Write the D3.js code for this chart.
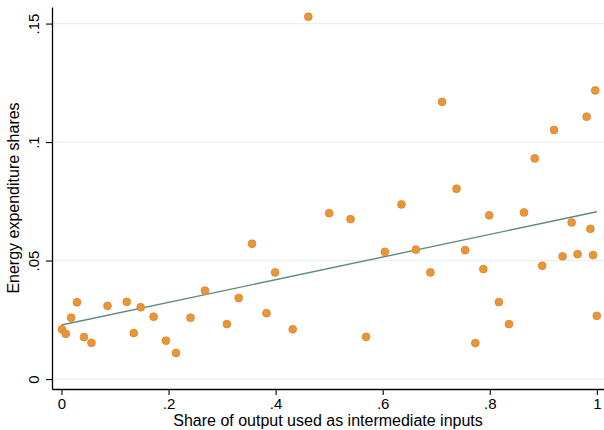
<!DOCTYPE html>
<html>
<head>
<meta charset="utf-8">
<script src="https://cdn.jsdelivr.net/npm/d3@7"></script>
<style>
  body { margin: 0; background: #fff; }
  svg { display: block; font-family: "Liberation Sans", Arial, sans-serif; }
</style>
</head>
<body>
<div id="chart"></div>
<script>
// share of output used as intermediate inputs
const shareInputs = [0.001, 0.008, 0.018, 0.029, 0.042, 0.056, 0.086, 0.122, 0.135, 0.148,
  0.172, 0.195, 0.214, 0.241, 0.268, 0.309, 0.331, 0.356, 0.383, 0.399,
  0.432, 0.461, 0.500, 0.540, 0.569, 0.604, 0.635, 0.662, 0.689, 0.711,
  0.738, 0.754, 0.773, 0.788, 0.799, 0.817, 0.836, 0.864, 0.884, 0.898,
  0.920, 0.936, 0.953, 0.964, 0.981, 0.988, 0.993, 0.997, 1.000];
// energy expenditure shares
const energyShares = [0.0210, 0.0191, 0.0259, 0.0324, 0.0177, 0.0153, 0.0309, 0.0326, 0.0194, 0.0303,
  0.0263, 0.0162, 0.0110, 0.0259, 0.0373, 0.0232, 0.0342, 0.0571, 0.0278, 0.0450,
  0.0210, 0.1529, 0.0700, 0.0675, 0.0178, 0.0537, 0.0737, 0.0546, 0.0450, 0.1170,
  0.0803, 0.0544, 0.0152, 0.0464, 0.0691, 0.0325, 0.0232, 0.0703, 0.0931, 0.0478,
  0.1051, 0.0518, 0.0661, 0.0527, 0.1107, 0.0634, 0.0523, 0.1218, 0.0267];
// fitted line end points
const fitX = [0, 1];
const fitY = [0.0228, 0.0706];

const xTicks = [0, 0.2, 0.4, 0.6, 0.8, 1];
const yTicks = [0, 0.05, 0.1, 0.15];

const fmt = d => d === 0 ? "0" : d === 1 ? "1" : String(d).replace(/^0/, "");

const width = 604, height = 430;
const margin = {top: 7, right: 0, bottom: 41, left: 52};
const innerW = width - margin.left - margin.right;
const innerH = height - margin.top - margin.bottom;

const svg = d3.select("#chart").append("svg")
  .attr("width", width)
  .attr("height", height);

const g = svg.append("g")
  .attr("transform", `translate(${margin.left},${margin.top})`);

const x = d3.scaleLinear()
  .domain([-0.0177, 1.0134])
  .range([0, innerW]);

const y = d3.scaleLinear()
  .domain([-0.0042, 0.157])
  .range([innerH, 0]);

// gridlines
g.append("g")
  .selectAll("line")
  .data(yTicks)
  .join("line")
  .attr("x1", 0)
  .attr("x2", innerW)
  .attr("y1", d => y(d))
  .attr("y2", d => y(d))
  .attr("stroke", "#eaf0f2")
  .attr("stroke-width", 1.5);

// axes
const xAxis = g.append("g")
  .attr("transform", `translate(0,${innerH})`)
  .call(d3.axisBottom(x).tickValues(xTicks).tickFormat(fmt).tickSize(6).tickPadding(3).tickSizeOuter(0));

const yAxis = g.append("g")
  .call(d3.axisLeft(y).tickValues(yTicks).tickFormat(fmt).tickSize(6).tickPadding(3).tickSizeOuter(0));

[xAxis, yAxis].forEach(a => {
  a.select(".domain").attr("stroke", "#000").attr("stroke-width", 1.3);
  a.selectAll(".tick line").attr("stroke", "#000").attr("stroke-width", 1.1);
  a.selectAll("text").attr("fill", "#000").style("font-size", "15px")
    .style("font-family", "'Liberation Sans', Arial, sans-serif");
});

yAxis.selectAll(".tick text")
  .attr("transform", "rotate(-90)")
  .attr("x", 0)
  .attr("y", -13)
  .attr("dy", "0")
  .attr("text-anchor", "middle");

// fitted line
g.append("line")
  .attr("x1", x(fitX[0]))
  .attr("y1", y(fitY[0]))
  .attr("x2", x(fitX[1]))
  .attr("y2", y(fitY[1]))
  .attr("stroke", "#5f8a7e")
  .attr("stroke-width", 1.4);

// points
g.append("g")
  .selectAll("circle")
  .data(d3.range(shareInputs.length))
  .join("circle")
  .attr("cx", i => x(shareInputs[i]))
  .attr("cy", i => y(energyShares[i]))
  .attr("r", 3.9)
  .attr("fill", "#e9963a")
  .attr("stroke", "#dc8420")
  .attr("stroke-width", 0.8);

// axis titles
svg.append("text")
  .attr("x", margin.left + innerW / 2)
  .attr("y", 426)
  .attr("text-anchor", "middle")
  .style("font-size", "16px")
  .text("Share of output used as intermediate inputs");

svg.append("text")
  .attr("transform", `translate(19,${margin.top + innerH / 2}) rotate(-90)`)
  .attr("text-anchor", "middle")
  .style("font-size", "16px")
  .text("Energy expenditure shares");
</script>
</body>
</html>
